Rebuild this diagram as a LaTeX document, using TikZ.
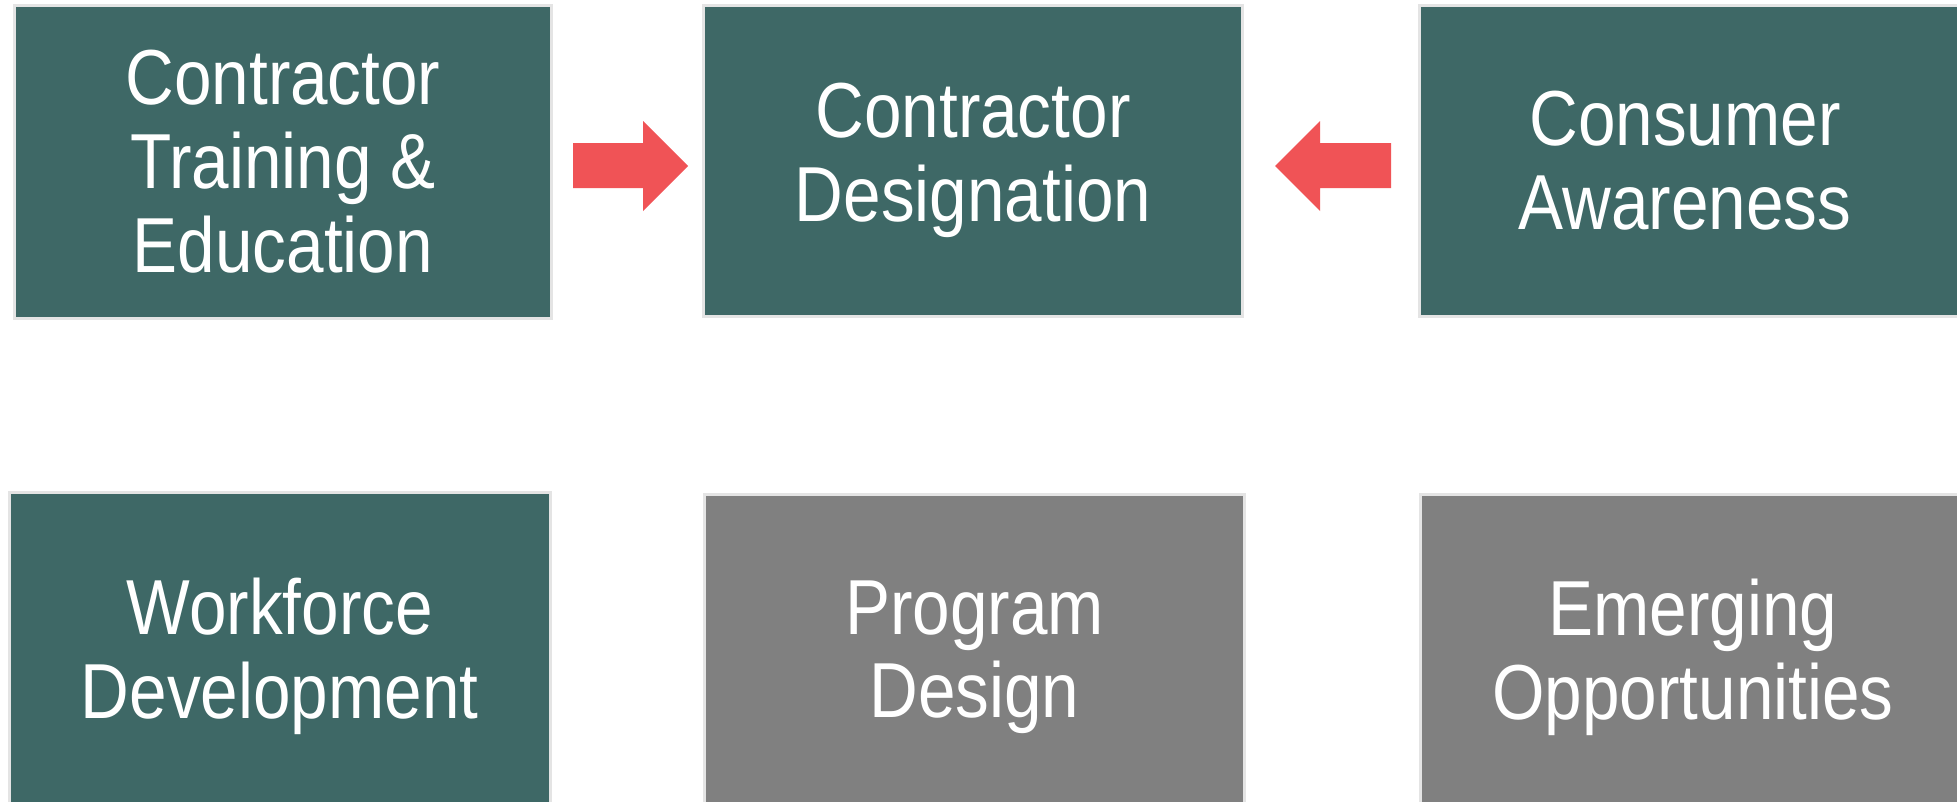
\documentclass[tikz,border=0pt]{standalone}
\usepackage{fontspec}
\setmainfont[FakeStretch=0.865]{Liberation Sans}
\definecolor{tealfill}{HTML}{3E6866}
\definecolor{greyfill}{HTML}{808080}
\definecolor{edgegrey}{HTML}{E4E4E4}
\definecolor{arrowred}{HTML}{F05356}
\tikzset{
  panel/.style={rectangle, draw=edgegrey, line width=3pt, inner sep=0pt,
    text=white, align=center,
    font=\fontsize{78}{84}\selectfont},
  tealpanel/.style={panel, fill=tealfill},
  greypanel/.style={panel, fill=greyfill},
  blockarrow/.style={fill=arrowred, draw=none}
}
\begin{document}
\begin{tikzpicture}[x=1pt, y=-1pt]
  \useasboundingbox (0,0) rectangle (1957,801);
  \clip (0,0) rectangle (1957,801);
  \fill[white] (0,0) rectangle (1957,801);

  % top row
  \node[tealpanel, minimum width=537pt, minimum height=313pt] (train) at (283,162)
    {Contractor\\Training \&\\Education};
  \node[tealpanel, minimum width=539pt, minimum height=310.5pt] (desig) at (973,160.75)
    {Contractor\\Designation};
  \node[tealpanel, minimum width=545pt, minimum height=310.5pt, text width=537pt] (aware) at (1692,160.75)
    {\hspace*{-14pt}Consumer\\\hspace*{-14pt}Awareness};

  % bottom row
  \node[tealpanel, minimum width=540.5pt, minimum height=327.5pt] (work) at (279.75,656.25)
    {Workforce\\Development};
  \node[greypanel, minimum width=540pt, minimum height=325.5pt] (prog) at (974.5,657.25)
    {Program\\Design};
  \node[greypanel, minimum width=545pt, minimum height=325.5pt] (emerg) at (1693,657.25)
    {Emerging\\Opportunities};

  % block arrows towards the designation panel
  \coordinate (a1) at (573,166);
  \coordinate (b1) at (688,166);
  \fill[blockarrow] (a1) ++(0,-23) -- ++(70,0) -- ++(0,-22) -- (b1)
    -- ++(-45,45) -- ++(0,-23) -- ++(-70,0) -- cycle;
  \coordinate (a2) at (1391,166);
  \coordinate (b2) at (1275,166);
  \fill[blockarrow] (a2) ++(0,-23) -- ++(-71,0) -- ++(0,-22) -- (b2)
    -- ++(45,45) -- ++(0,-23) -- ++(71,0) -- cycle;
\end{tikzpicture}
\end{document}
